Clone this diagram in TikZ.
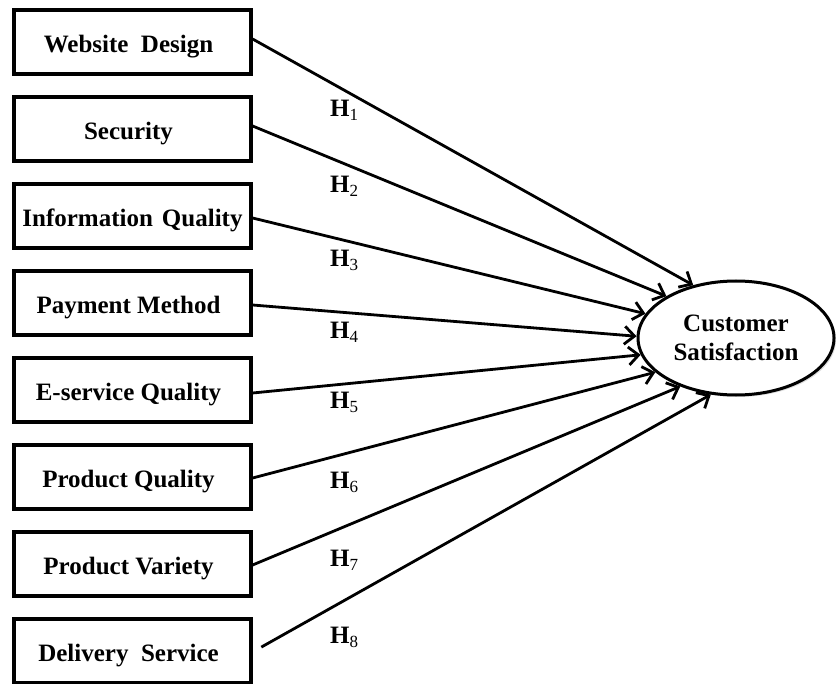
\documentclass[tikz,border=0pt]{standalone}
\usepackage{fontspec}
\setmainfont{Liberation Serif}
\usetikzlibrary{arrows.meta,shadows,shapes.geometric}
\begin{document}
\begin{tikzpicture}[x=1pt,y=-1pt,
  txt/.style={font=\fontsize{25}{29}\selectfont\bfseries},
  box/.style={txt, draw, line width=3.2pt, fill=white, minimum width=237pt,
    minimum height=64pt, inner sep=0pt, text height=21pt, text depth=0pt,
    drop shadow={shadow xshift=2pt, shadow yshift=-2pt, opacity=0.25}},
  oval/.style={txt, ellipse, draw, line width=3pt, fill=white, minimum width=196pt,
    minimum height=114pt, inner sep=0pt, align=center,
    drop shadow={shadow xshift=2pt, shadow yshift=-2pt, opacity=0.25}},
  arr/.style={line width=2.8pt, -{Straight Barb[length=10pt,width=18pt,line width=2.8pt]}},
  hlab/.style={anchor=base west, inner sep=0pt, txt}
]
\useasboundingbox (0,0) rectangle (837,684);
\newcommand{\hsub}[1]{H\raisebox{-4pt}{\fontsize{17}{17}\selectfont\mdseries #1}}
\newcommand{\lft}{\hbox to 8pt{}}

\node[box] (wd) at (132.5,42)  {Website\ \ Design\lft};
\node[box] (se) at (132.5,129) {Security\lft};
\node[box] (iq) at (132.5,216) {Information\hspace{9pt}Quality};
\node[box] (pm) at (132.5,303) {Payment Method\lft};
\node[box] (es) at (132.5,390) {E-service Quality\lft};
\node[box] (pq) at (132.5,477) {Product Quality\lft};
\node[box] (pv) at (132.5,564) {Product Variety\lft};
\node[box] (ds) at (132.5,651) {Delivery\ \ Service\lft};

\node[oval] (cs) at (736,338) {Customer\\Satisfaction};

\draw[arr] ([yshift=3pt]wd.east) -- (cs.129.5);
\draw[arr] ([yshift=3pt]se.east) -- (cs.149);
\draw[arr] ([yshift=-2pt]iq.east) -- (cs.165);
\draw[arr] ([yshift=-2pt]pm.east) -- (cs.179);
\draw[arr] ([yshift=-3pt]es.east) -- (cs.190.5);
\draw[arr] ([yshift=-1pt]pq.east) -- (cs.203);
\draw[arr] ([yshift=-1pt]pv.east) -- (cs.221);
\draw[arr, shorten <=10pt] ([yshift=-1pt]ds.east) -- (cs.246);

\node[hlab] (h1) at (330,117) {\hsub{1}};
\node[hlab] (h2) at (330,193) {\hsub{2}};
\node[hlab] (h3) at (330,267) {\hsub{3}};
\node[hlab] (h4) at (330,338) {\hsub{4}};
\node[hlab] (h5) at (330,408) {\hsub{5}};
\node[hlab] (h6) at (330,488) {\hsub{6}};
\node[hlab] (h7) at (330,566) {\hsub{7}};
\node[hlab] (h8) at (330,643) {\hsub{8}};
\end{tikzpicture}
\end{document}
